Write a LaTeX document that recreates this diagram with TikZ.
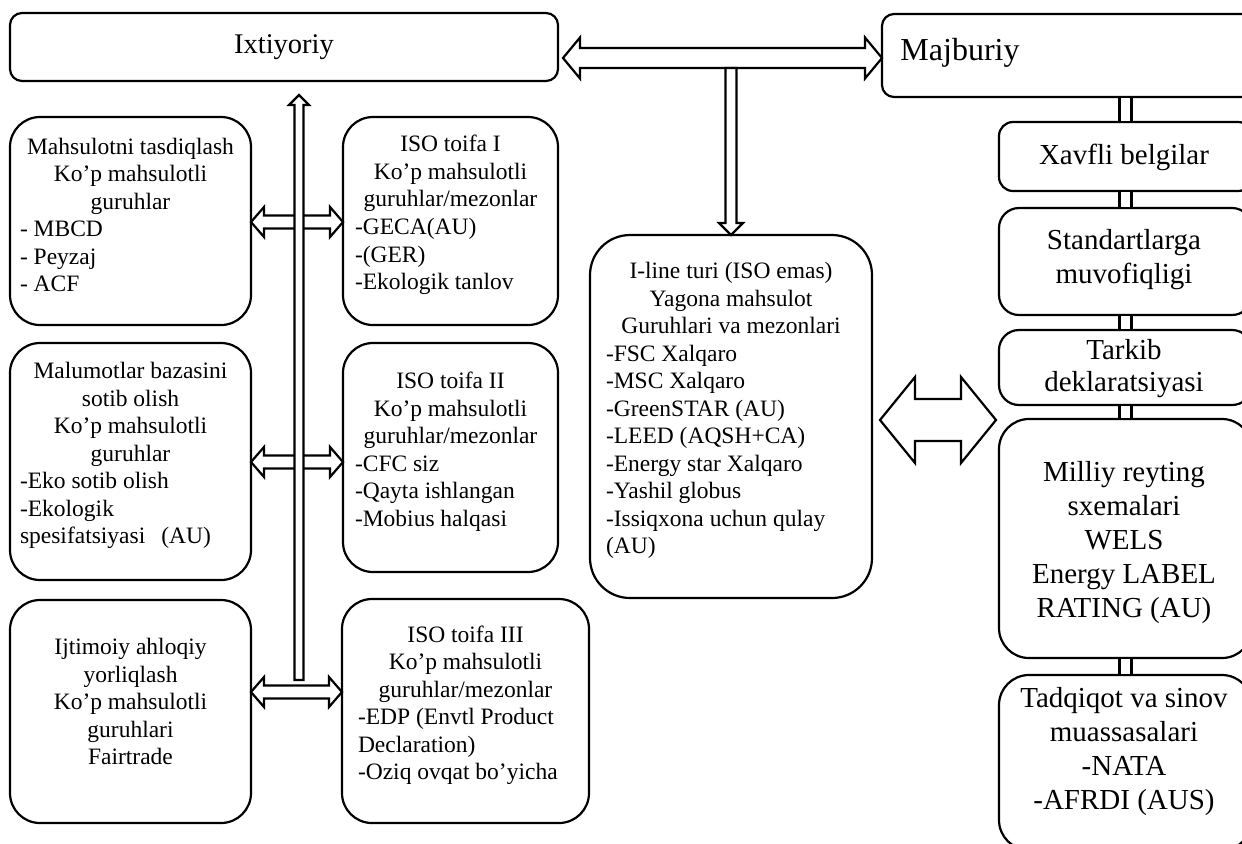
\documentclass[tikz,border=0pt]{standalone}
\usepackage{fontspec}
\setmainfont{Liberation Serif}
\usetikzlibrary{fit,calc}
\setlength{\parindent}{0pt}
% double-headed block arrow: #1 left tip, #2 right tip, #3 shaft half, #4 head half, #5 head length
\newcommand\blkdbl[5]{%
  \draw[blk] (#1) -- ++(#5,-#4) -- ++(0,#4-#3) -- ($(#2)+(-#5,-#3)$) -- ++(0,#3-#4) -- (#2)
    -- ++(-#5,#4) -- ++(0,#3-#4) -- ($(#1)+(#5,#3)$) -- ++(0,#4-#3) -- cycle;}
% single block arrow: #1 base centre, #2 tip, #3 shaft half, #4 head half, #5 signed head length
\newcommand\blksgl[5]{%
  \draw[blk] ($(#1)+(-#3,0)$) -- ($(#2)+(-#3,#5)$) -- ++(#3-#4,0) -- (#2)
    -- ($(#2)+(#4,#5)$) -- ++(#3-#4,0) -- ($(#1)+(#3,0)$) -- cycle;}
% plain double-line bar between two points
\newcommand\blkbar[2]{\draw[blk] ($(#1)+(-6,0)$) rectangle ($(#2)+(6,0)$);}
\begin{document}
\begin{tikzpicture}[x=0.5pt,y=-0.5pt,
  bx/.style={draw, line width=1.1pt, inner sep=0pt, outer sep=0pt, rounded corners=#1},
  bx/.default=15pt,
  txt/.style={inner sep=0pt, font=\fontsize{11.75pt}{13.75pt}\selectfont, align=flush center},
  big/.style={inner sep=0pt, font=\fontsize{14.5pt}{17pt}\selectfont, align=center},
  blk/.style={draw, line width=1.1pt, fill=white, line join=miter}]
\useasboundingbox (0,0) rectangle (1242,843);
\clip (0,0) rectangle (1242,843);

% top boxes
\node[bx=6pt, fit={(10,13)(558,81)}] (ix) {};
\node[big, font=\fontsize{14.25pt}{17pt}\selectfont] (ixt) at (ix.center) {Ixtiyoriy};
\node[bx=6pt, fit={(882,14)(1254,97)}] (maj) {};
\node[big, font=\fontsize{16pt}{19pt}\selectfont] (majt) at (960,53) {Majburiy};

% left column
\node[bx, fit={(10,117)(251,325)}] (l1) {};
\node[txt, text width=110.5pt, yshift=3pt] (l1t) at (l1.center) {Mahsulotni tasdiqlash\\
Ko’p mahsulotli\\ guruhlar\\ - MBCD\hfill\null\\ - Peyzaj\hfill\null\\ - ACF\hfill\null};

\node[bx, fit={(10,343)(251,580)}] (l2) {};
\node[txt, text width=110.5pt, yshift=3pt] (l2t) at (l2.center) {Malumotlar bazasini\\
sotib olish\\ Ko’p mahsulotli\\ guruhlar\\ -Eko sotib olish\hfill\null\\ -Ekologik\hfill\null\\
spesifatsiyasi\hspace{8pt}(AU)\hfill\null};

\node[bx, fit={(10,600)(251,823)}] (l3) {};
\node[txt, text width=110.5pt, yshift=5pt] (l3t) at (l3.center) {Ijtimoiy ahloqiy\\
yorliqlash\\ Ko’p mahsulotli\\ guruhlari\\ Fairtrade};

% ISO column
\node[bx, fit={(343,117)(558,325)}] (i1) {};
\node[txt, text width=95.5pt, yshift=3pt] (i1t) at (i1.center) {ISO toifa I\\
Ko’p mahsulotli\\ guruhlar/mezonlar\\ -GECA(AU)\hfill\null\\ -(GER)\hfill\null\\ -Ekologik tanlov\hfill\null};

\node[bx, fit={(343,343)(558,572)}] (i2) {};
\node[txt, text width=95.5pt, yshift=3pt] (i2t) at (i2.center) {ISO toifa II\\
Ko’p mahsulotli\\ guruhlar/mezonlar\\ -CFC siz\hfill\null\\ -Qayta ishlangan\hfill\null\\ -Mobius halqasi\hfill\null};

\node[bx, fit={(342,599)(589,823)}] (i3) {};
\node[txt, text width=107.5pt, yshift=3pt] (i3t) at (i3.center) {ISO toifa III\\
Ko’p mahsulotli\\ guruhlar/mezonlar\\ -EDP (Envtl Product\hfill\null\\ Declaration)\hfill\null\\ -Oziq ovqat bo’yicha\hfill\null};

% centre box
\node[bx=20pt, fit={(590,235)(872,598)}] (cb) {};
\node[txt, text width=125pt, yshift=3pt] (cbt) at (cb.center) {I-line turi (ISO emas)\\
Yagona mahsulot\\ Guruhlari va mezonlari\\ -FSC Xalqaro\hfill\null\\ -MSC Xalqaro\hfill\null\\
-GreenSTAR (AU)\hfill\null\\ -LEED (AQSH+CA)\hfill\null\\ -Energy star Xalqaro\hfill\null\\
-Yashil globus\hfill\null\\ -Issiqxona uchun qulay\hfill\null\\ (AU)\hfill\null};

% right column
\node[bx=7pt, fit={(999,122)(1252,191)}] (r1) {};
\node[big] (r1t) at (1124,157) {Xavfli belgilar};
\node[bx=10pt, fit={(999,208)(1252,315)}] (r2) {};
\node[big] (r2t) at (1124,260) {Standartlarga\\ muvofiqligi};
\node[bx=10pt, fit={(999,330)(1252,405)}] (r3) {};
\node[big, font=\fontsize{14.5pt}{16pt}\selectfont] (r3t) at (1124,369) {Tarkib\\ deklaratsiyasi};
\node[bx=15pt, fit={(999,419)(1252,658)}] (r4) {};
\node[big] (r4t) at (1124,543) {Milliy reyting\\ sxemalari\\ WELS\\ Energy LABEL\\ RATING (AU)};
\node[bx=15pt, fit={(999,675)(1252,850)}] (r5) {};
\node[big] (r5t) at (1124,752) {Tadqiqot va sinov\\ muassasalari\\ -NATA\\ -AFRDI (AUS)};

% right column bars
\coordinate (mj) at (r1.north |- maj.south);
\blkbar{mj}{r1.north}
\blkbar{r1.south}{r2.north}
\blkbar{r2.south}{r3.north}
\blkbar{r3.south}{r4.north}
\blkbar{r4.south}{r5.north}

% top double arrow and down arrow
\coordinate[xshift=2.5pt] (ta) at (ix.east |- 0,58);
\coordinate (tb) at (maj.west |- 0,58);
\blkdbl{ta}{tb}{10}{20.5}{17}
\coordinate (da) at (cb.north |- 0,68);
\blksgl{da}{cb.north}{5.5}{12}{-12}

% big double arrow
\coordinate[xshift=4pt] (ba) at (cb.east |- 0,420);
\coordinate[xshift=-1.5pt] (bb) at (r4.west |- 0,420);
\blkdbl{ba}{bb}{21}{43}{35}

% left row arrows
\coordinate (h1a) at (l1.east |- 0,222);
\coordinate (h1b) at (i1.west |- 0,222);
\blkdbl{h1a}{h1b}{6.5}{15}{13}
\coordinate (h2a) at (l2.east |- 0,462);
\coordinate (h2b) at (i2.west |- 0,462);
\blkdbl{h2a}{h2b}{6.5}{15}{13}
\coordinate (h3a) at (l3.east |- 0,692);
\coordinate (h3b) at (i3.west |- 0,692);
\blkdbl{h3a}{h3b}{6.5}{15}{13}

% left vertical arrow
\coordinate (va) at (299,680);
\coordinate[yshift=-7pt] (vb) at (va |- ix.south);
\blksgl{va}{vb}{4.5}{10}{10}
\end{tikzpicture}
\end{document}
